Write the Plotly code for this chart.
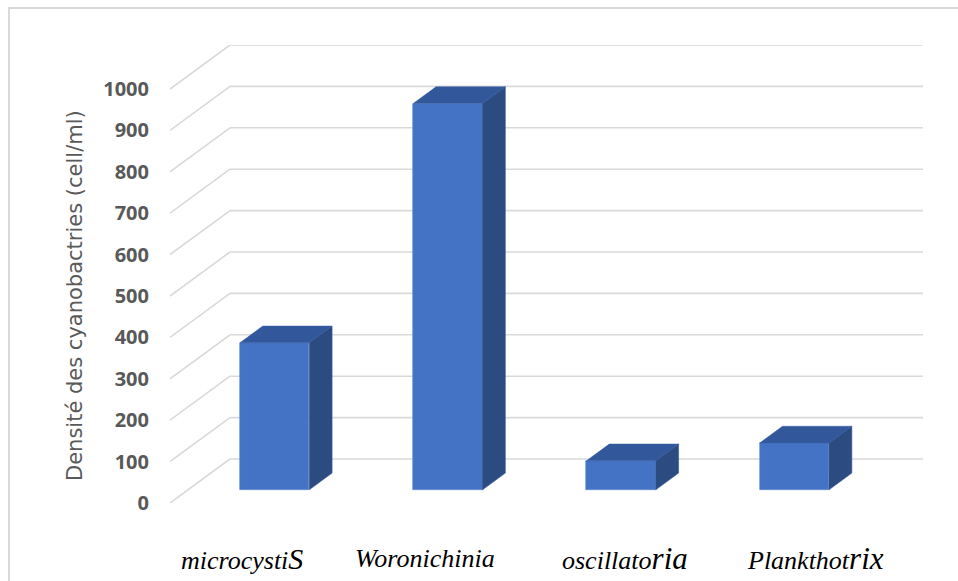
import plotly.graph_objects as go

# Cyanobacteria densities (cell/ml) per genus
categories = ["microcystis", "Woronichinia", "oscillatoria", "Plankthotrix"]
densities = [355, 933, 70, 113]
y_ticks = [0, 100, 200, 300, 400, 500, 600, 700, 800, 900, 1000]

# Rich-text versions of the genus names (mixed glyph sizes)
label_html = [
    "microcysti<span style='font-size:30px'>S</span>",
    "Woronichinia",
    "oscillato<span style='font-size:31px'>ria</span>",
    "Plankthot<span style='font-size:31px'>rix</span>",
]

# ---- oblique 3-D projection parameters (in axis units) ----
W, H = 958, 581
L_PX, R_PX = 170, 923          # plot area left / right in pixels
FLOOR_PX = 503                 # pixel row of value 0 on the front plane
PX_PER_CAT = 173.25
PX_PER_UNIT = 0.414
DEPTH_DX = 60 / PX_PER_CAT     # depth offset along x (category units)
DEPTH_DY = 44 / PX_PER_UNIT    # depth offset along y (value units)
F0, F1 = 0.30, 0.68            # bar front / back depth fraction
BAR_W = 0.40

n = len(categories)
x_max = n + DEPTH_DX
y_max = max(y_ticks) + DEPTH_DY
top_px = FLOOR_PX - y_max * PX_PER_UNIT

FRONT = "#4472C4"
TOP = "#32579B"
SIDE = "#2B4B81"
GRID = "#D9D9D9"

SERIF = "Liberation Serif, 'Times New Roman', Times, serif"

fig = go.Figure()

# back wall + left wall gridlines (kept under the bars)
shapes = []
for v in y_ticks:
    shapes.append(dict(type="line", xref="x", yref="y", layer="below",
                       x0=0, y0=v, x1=DEPTH_DX, y1=v + DEPTH_DY,
                       line=dict(color=GRID, width=1.6)))
    shapes.append(dict(type="line", xref="x", yref="y", layer="below",
                       x0=DEPTH_DX, y0=v + DEPTH_DY, x1=x_max, y1=v + DEPTH_DY,
                       line=dict(color=GRID, width=1.6)))

# pixel -> paper helpers for decorations placed outside the plot area
def px_to_paper_x(px):
    return (px - L_PX) / (R_PX - L_PX)

def px_to_paper_y(py):
    return (FLOOR_PX - py) / (FLOOR_PX - top_px)

# chart-area frame
shapes.append(dict(type="rect", xref="paper", yref="paper", layer="below",
                   x0=px_to_paper_x(9), y0=px_to_paper_y(8),
                   x1=px_to_paper_x(W + 5), y1=px_to_paper_y(H + 5),
                   line=dict(color=GRID, width=2), fillcolor="rgba(0,0,0,0)"))

# front faces of the bars
x_front = [i + 0.5 + F0 * DEPTH_DX for i in range(n)]
base0 = F0 * DEPTH_DY
fig.add_trace(go.Bar(
    x=x_front, y=densities, base=[base0] * n, width=BAR_W,
    marker=dict(color=FRONT, line=dict(color="#5A86D0", width=0.6)),
    hoverinfo="skip", showlegend=False,
))

# top and side faces
ddx = (F1 - F0) * DEPTH_DX
base1 = F1 * DEPTH_DY
for xc, v in zip(x_front, densities):
    xl, xr = xc - BAR_W / 2, xc + BAR_W / 2
    fig.add_trace(go.Scatter(
        x=[xl, xr, xr + ddx, xl + ddx, xl],
        y=[v + base0, v + base0, v + base1, v + base1, v + base0],
        mode="lines", fill="toself", fillcolor=TOP,
        line=dict(color="#3A62AA", width=0.6),
        hoverinfo="skip", showlegend=False,
    ))
    fig.add_trace(go.Scatter(
        x=[xr, xr + ddx, xr + ddx, xr, xr],
        y=[base0, base1, v + base1, v + base0, base0],
        mode="lines", fill="toself", fillcolor=SIDE,
        line=dict(color="#34599A", width=0.6),
        hoverinfo="skip", showlegend=False,
    ))

# genus names below the floor
label_px = [242, 425, 625, 815]
annotations = []
for txt, px in zip(label_html, label_px):
    annotations.append(dict(
        text="<i>" + txt + "</i>", xref="paper", yref="paper",
        x=px_to_paper_x(px), y=px_to_paper_y(558),
        showarrow=False, xanchor="center", yanchor="middle",
        font=dict(family=SERIF, size=26, color="#000000"),
    ))

# value-axis title centred on the front scale
annotations.append(dict(
    text="Densité des cyanobactries (cell/ml)",
    xref="paper", yref="paper",
    x=px_to_paper_x(75), y=px_to_paper_y(FLOOR_PX - max(y_ticks) / 2 * PX_PER_UNIT),
    textangle=-90, showarrow=False, xanchor="center", yanchor="middle",
    font=dict(family="DejaVu Sans", size=21, color="#595959"),
))

fig.update_layout(
    width=W, height=H,
    margin=dict(l=L_PX, r=W - R_PX, t=top_px, b=H - FLOOR_PX, pad=0),
    paper_bgcolor="white", plot_bgcolor="white",
    shapes=shapes, annotations=annotations,
    bargap=0, showlegend=False,
    xaxis=dict(range=[0, x_max], showgrid=False, zeroline=False,
               showline=False, showticklabels=False, ticks="", fixedrange=True),
    yaxis=dict(range=[0, y_max], showgrid=False, zeroline=False,
               showline=False, ticks="", tickvals=y_ticks,
               ticktext=[str(t) for t in y_ticks],
               ticklabelstandoff=20,
               tickfont=dict(family="Open Sans", size=20, color="#595959",
                             weight="bold"),
               fixedrange=True),
)

fig.write_html("out.html")
